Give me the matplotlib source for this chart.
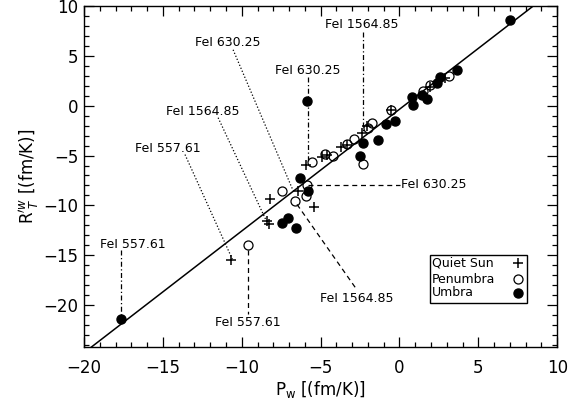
import numpy as np
import matplotlib
matplotlib.use("Agg")
import matplotlib.pyplot as plt
from matplotlib.patches import Rectangle

# values
quiet_x = [-10.68, -8.21, -8.42, -8.30, -6.45, -5.39, -5.90, -4.90, -4.61,
           -3.70, -3.30, -2.40, -2.05, -0.51, 1.94, 2.90]
quiet_y = [-15.5, -9.35, -11.6, -11.9, -8.6, -10.17, -5.9, -5.15, -4.9,
           -4.15, -3.9, -2.7, -2.05, -0.4, 1.9, 2.8]

pen_x = [-9.60, -7.48, -6.64, -5.88, -5.95, -5.56, -4.75, -4.23, -3.34,
         -2.86, -2.33, -1.76, -1.97, -0.51, 1.52, 1.94, 3.17]
pen_y = [-14.0, -8.6, -9.57, -7.95, -9.07, -5.6, -4.85, -5.0, -3.8,
         -3.35, -5.85, -1.75, -2.2, -0.45, 1.5, 2.1, 3.0]

umb_x = [-17.67, -5.84, 7.01, -6.30, -5.78, -7.46, -7.04, -6.56, -2.33,
         -2.50, -1.38, -0.87, -0.28, 0.78, 0.88, 1.41, 1.73, 2.36, 2.57, 3.63]
umb_y = [-21.4, 0.5, 8.57, -7.3, -8.6, -11.8, -11.3, -12.3, -3.7,
         -5.0, -3.4, -1.8, -1.5, 0.9, 0.1, 1.1, 0.7, 2.3, 2.9, 3.55]

fit_a, fit_b = -0.35, 1.222

# labels: text, text position, leader line start/end, style
lab_text = ["FeI 1564.85", "FeI 630.25", "FeI 630.25", "FeI 1564.85",
            "FeI 557.61", "FeI 557.61", "FeI 630.25", "FeI 1564.85",
            "FeI 557.61"]
lab_pos = [(-2.40, 8.2), (-5.82, 3.55), (-10.87, 6.33), (-12.5, -0.6),
           (-14.67, -4.3), (-16.9, -13.95), (0.1, -7.93), (-2.69, -19.35),
           (-9.63, -21.8)]
lab_ha = ["center", "center", "center", "center", "center", "center",
          "left", "center", "center"]
lead_from = [(-2.29, 7.4), (-5.82, 2.9), (-10.55, 5.62), (-11.5, -1.2),
             (-13.6, -4.9), (-17.65, -14.5), (-5.8, -7.93), (-6.5, -9.9),
             (-9.58, -14.5)]
lead_to = [(-2.29, -2.6), (-5.82, -5.7), (-6.75, -8.5), (-8.4, -11.7),
           (-10.6, -15.4), (-17.65, -21.2), (0.05, -7.93), (-2.69, -18.5),
           (-9.58, -20.9)]
dashdot = (0, (4, 2, 1, 2))
dotted = (0, (1, 1.6))
dashed = (0, (4, 3))
lead_style = [dashdot, dashdot, dotted, dotted, dotted, dashdot, dashed,
              dashed, dashed]

legend_names = ["Quiet Sun", "Penumbra", "Umbra"]

plt.rcParams['font.family'] = ['DejaVu Sans']
fig = plt.figure(figsize=(5.68, 4.09), dpi=100)
ax = fig.add_axes([0.148, 0.152, 0.833, 0.833])

xx = np.array([-20, 10])
ax.plot(xx, fit_a + fit_b * xx, color='k', lw=1.1, zorder=2)

for t, p, ha, a, b, ls in zip(lab_text, lab_pos, lab_ha, lead_from,
                              lead_to, lead_style):
    ax.plot([a[0], b[0]], [a[1], b[1]], color='k', lw=0.9, ls=ls, zorder=1)
    ax.text(p[0], p[1], t, ha=ha, va='center', fontsize=9)

ax.plot(umb_x, umb_y, ls='none', marker='o', ms=6.5, color='k', zorder=4)
ax.plot(pen_x, pen_y, ls='none', marker='o', ms=6.5, mew=0.9, mfc='none',
        mec='k', zorder=5)
ax.plot(quiet_x, quiet_y, ls='none', marker='+', ms=7.5, mew=1.1,
        color='k', zorder=6)

# IDL-style legend box: names left, symbols right
ax.add_patch(Rectangle((0.7315, 0.1292), 0.2051, 0.1409,
                       transform=ax.transAxes, fc='white', ec='k', lw=1.0,
                       zorder=7))
rows = [0.2457, 0.1988, 0.1594]
styles = [dict(marker='+', ms=7.5, mew=1.1, color='k'),
          dict(marker='o', ms=6.5, mew=0.9, mfc='white', mec='k'),
          dict(marker='o', ms=6.5, color='k')]
for name, ry, st in zip(legend_names, rows, styles):
    ax.text(0.7357, ry, name, transform=ax.transAxes, ha='left',
            va='center', fontsize=9, zorder=8)
    ax.plot([0.918], [ry], ls='none', transform=ax.transAxes, zorder=8,
            clip_on=False, **st)

ax.set_xlim(-20, 10)
ax.set_ylim(-24.2, 10)
ax.set_xticks(np.arange(-20, 11, 5))
ax.set_yticks(np.arange(-20, 11, 5))
ax.set_xticks(np.arange(-20, 11, 1), minor=True)
ax.set_yticks(np.arange(-24, 11, 1), minor=True)
ax.tick_params(which='both', direction='in', top=True, right=True,
               labelsize=12, width=0.9)
ax.tick_params(which='major', length=7)
ax.tick_params(which='minor', length=3.5)
ax.tick_params(axis='x', pad=9)
ax.tick_params(axis='y', pad=4)
for s in ax.spines.values():
    s.set_linewidth(1.0)

ax.set_xlabel(r"P$_{\rm w}$ [(fm/K)]", fontsize=12, labelpad=1)
ax.set_ylabel(r"R$^{\prime w}_{\ T}$ [(fm/K)]", fontsize=12, labelpad=2)

fig.savefig("out.png", dpi=100)
